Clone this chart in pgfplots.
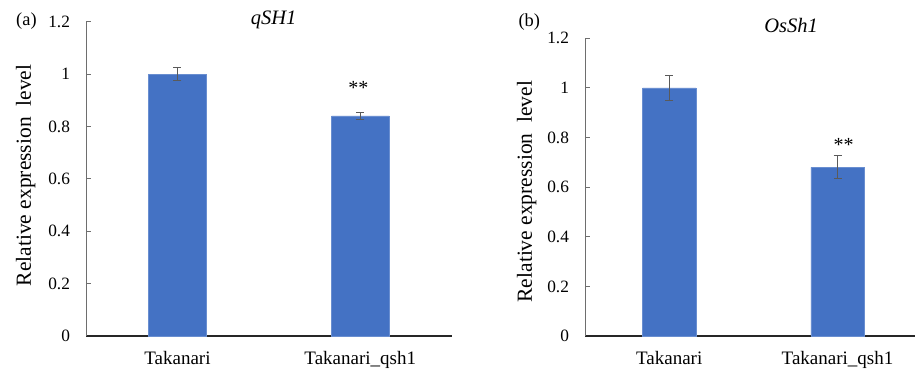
\documentclass[border=0pt]{standalone}
\usepackage{fontspec}
\setmainfont{Liberation Serif}
\usepackage{pgfplots}
\pgfplotsset{compat=1.18}
\definecolor{barblue}{HTML}{4472C4}
\definecolor{errgray}{HTML}{5A5A5A}
\definecolor{yaxgray}{HTML}{6E6E6E}
\definecolor{xaxblack}{HTML}{262626}
\pgfplotsset{
  mybars/.style={
    scale only axis,
    anchor=south west,
    ybar,
    ymin=0, ymax=1.2,
    xmin=-0.5, xmax=1.5,
    enlargelimits=false,
    axis x line*=bottom,
    axis y line*=left,
    x axis line style={draw=xaxblack, line width=1.1pt},
    y axis line style={draw=yaxgray, line width=0.9pt},
    ytick={0,0.2,0.4,0.6,0.8,1,1.2},
    yticklabels={0,0.2,0.4,0.6,0.8,1,1.2},
    ytick style={draw=yaxgray, line width=0.9pt},
    major tick length=4.7pt,
    tick align=inside,
    xtick={0,1},
    xticklabels={Takanari,Takanari\_qsh1},
    xtick style={draw=none},
    yticklabel style={font=\fontsize{17.3}{20}\selectfont, anchor=east, xshift=-12.5pt, text=black},
    xticklabel style={font=\fontsize{19}{22}\selectfont, anchor=base, yshift=-28pt, text=black},
    ylabel={Relative expression\ \ level},
    clip=false,
  },
}
\begin{document}
\begin{tikzpicture}[x=1pt,y=1pt]
\useasboundingbox (0,0) rectangle (915,368);
% panel (a)
\begin{axis}[mybars,
  at={(86pt,32pt)}, width=365.7pt, height=314.3pt,
  bar width=57.5pt,
  ylabel style={at={(axis description cs:-0.165,0.511)}, anchor=center, font=\fontsize{21.5}{24}\selectfont},
  title={\textit{qSH1}},
  title style={at={(axis description cs:0.513,0.9714)}, anchor=base, font=\fontsize{20.5}{24}\selectfont},
]
\addplot[fill=barblue, draw=barblue!80!white, line width=0.5pt,
  error bars/.cd, y dir=both, y explicit,
  error bar style={draw=errgray, line width=1pt},
  error mark options={rotate=90, mark size=4pt, draw=errgray, line width=1pt}]
  coordinates {(0,1.0) +- (0,0.025) (1,0.84) +- (0,0.015)};
\node[anchor=base, font=\fontsize{20}{22}\selectfont] at (axis cs:0.99,0.923) {**};
\end{axis}
% panel (b)
\begin{axis}[mybars,
  at={(585pt,32pt)}, width=336.7pt, height=297.7pt,
  bar width=53.3pt,
  ylabel style={at={(axis description cs:-0.173,0.485)}, anchor=center, font=\fontsize{21.5}{24}\selectfont},
  title={\textit{OsSh1}},
  title style={at={(axis description cs:0.612,1.0)}, anchor=base, font=\fontsize{20.5}{24}\selectfont},
]
\addplot[fill=barblue, draw=barblue!80!white, line width=0.5pt,
  error bars/.cd, y dir=both, y explicit,
  error bar style={draw=errgray, line width=1pt},
  error mark options={rotate=90, mark size=4pt, draw=errgray, line width=1pt}]
  coordinates {(0,1.0) +- (0,0.05) (1,0.68) +- (0,0.046)};
\node[anchor=base, font=\fontsize{20}{22}\selectfont] at (axis cs:1.036,0.7456) {**};
\end{axis}
\node[anchor=base west, font=\fontsize{18.4}{22}\selectfont] at (12.7,342.9) {(a)};
\node[anchor=base west, font=\fontsize{18.4}{22}\selectfont] at (515,341.9) {(b)};
\end{tikzpicture}
\end{document}
